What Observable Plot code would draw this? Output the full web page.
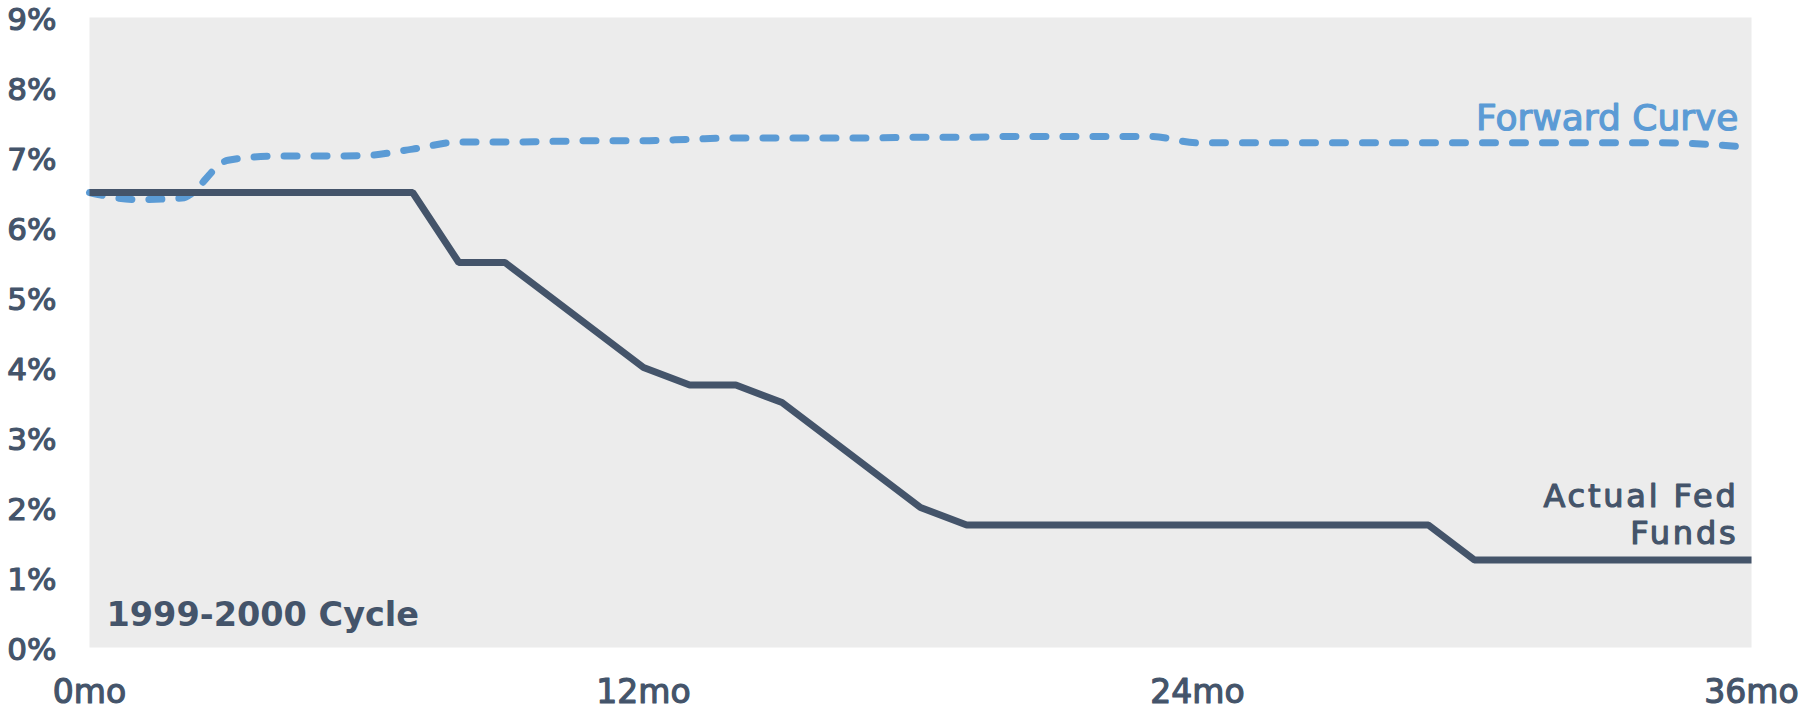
<!DOCTYPE html>
<html>
<head>
<meta charset="utf-8">
<script src="https://cdn.jsdelivr.net/npm/d3@7"></script>
<script src="https://cdn.jsdelivr.net/npm/@observablehq/plot@0.6"></script>
<style>
  html, body { margin: 0; padding: 0; background: #ffffff; }
  #chart svg { display: block; }
</style>
</head>
<body>
<div id="chart"></div>
<script>
// Months since the start of the cycle
const months = d3.range(0, 37);

// Effective fed funds target (%), 2000–2003
const actualRate = [
  6.5, 6.5, 6.5, 6.5, 6.5, 6.5, 6.5, 6.5, 5.5, 5.5,
  5.0, 4.5, 4.0, 3.75, 3.75, 3.5, 3.0, 2.5, 2.0, 1.75,
  1.75, 1.75, 1.75, 1.75, 1.75, 1.75, 1.75, 1.75, 1.75, 1.75,
  1.25, 1.25, 1.25, 1.25, 1.25, 1.25, 1.25
];

// Market-implied path (%) at the start of the cycle
const forwardRate = [
  6.50, 6.40, 6.42, 6.96, 7.02, 7.02, 7.03, 7.12, 7.22, 7.22,
  7.23, 7.24, 7.24, 7.26, 7.28, 7.28, 7.28, 7.28, 7.29, 7.29,
  7.30, 7.30, 7.30, 7.30, 7.21, 7.21, 7.21, 7.21, 7.21, 7.21,
  7.21, 7.21, 7.21, 7.21, 7.21, 7.19, 7.14
];

const yTicks = [0, 1, 2, 3, 4, 5, 6, 7, 8, 9];
const xTicks = [0, 12, 24, 36];
const seriesNames = ["Actual Fed\nFunds", "Forward Curve"];
const cycleName = "1999-2000 Cycle";

const actual = months.map((m, i) => ({month: m, rate: actualRate[i]}));
const forward = months.map((m, i) => ({month: m, rate: forwardRate[i]}));

const ink = "#44546a";
const blue = "#5b9bd5";
const font = "'DejaVu Sans', sans-serif";

const chart = Plot.plot({
  width: 1806,
  height: 710,
  marginLeft: 89,
  marginRight: 55,
  marginTop: 17,
  marginBottom: 63,
  style: {fontFamily: font, background: "#ffffff", color: ink},
  x: {domain: [0, 36]},
  y: {domain: [0, 9]},
  marks: [
    Plot.frame({fill: "#ececec", stroke: "none"}),
    Plot.axisY({
      ticks: yTicks, tickFormat: d => `${d}%`, tickSize: 0, tickPadding: 33,
      fontSize: 31, dy: 3, label: null, fill: ink
    }),
    Plot.axisX({
      ticks: xTicks, tickFormat: d => `${d}mo`, tickSize: 0, tickPadding: 32,
      fontSize: 33, label: null, fill: ink
    }),
    Plot.line(forward, {
      x: "month", y: "rate", stroke: blue, strokeWidth: 7,
      strokeDasharray: "13,17", strokeLinecap: "round", curve: "monotone-x"
    }),
    Plot.line(actual, {
      x: "month", y: "rate", stroke: ink, strokeWidth: 7,
      strokeLinejoin: "miter", strokeLinecap: "butt"
    }),
    Plot.text([forward[forward.length - 1]], {
      x: "month", y: "rate", text: () => seriesNames[1],
      textAnchor: "end", lineAnchor: "bottom", dx: -13, dy: -18,
      fontSize: 36, fill: blue
    }),
    Plot.text([actual[actual.length - 1]], {
      x: "month", y: "rate", text: () => seriesNames[0],
      textAnchor: "end", lineAnchor: "bottom", dx: -13, dy: -16.5,
      lineHeight: 1.135, fontSize: 32, fill: ink
    }),
    Plot.text([{month: 0, rate: 0}], {
      x: "month", y: "rate", text: () => cycleName,
      textAnchor: "start", lineAnchor: "bottom", dx: 17, dy: -22,
      fill: ink, fontSize: 33.5, fontWeight: 700
    })
  ]
});

document.getElementById("chart").appendChild(chart);

// Give the regular-weight labels a medium weight with an outline in their own colour,
// and open up the tracking of the two-line series label.
d3.select(chart).selectAll("text").each(function () {
  const cs = getComputedStyle(this);
  if (+cs.fontWeight >= 700) return;
  d3.select(this)
    .style("stroke", cs.fill)
    .style("stroke-width", "1.2px")
    .style("stroke-linejoin", "round")
    .style("paint-order", "stroke");
  if (this.textContent.includes("Actual")) d3.select(this).style("letter-spacing", "2.8px");
});
</script>
</body>
</html>
